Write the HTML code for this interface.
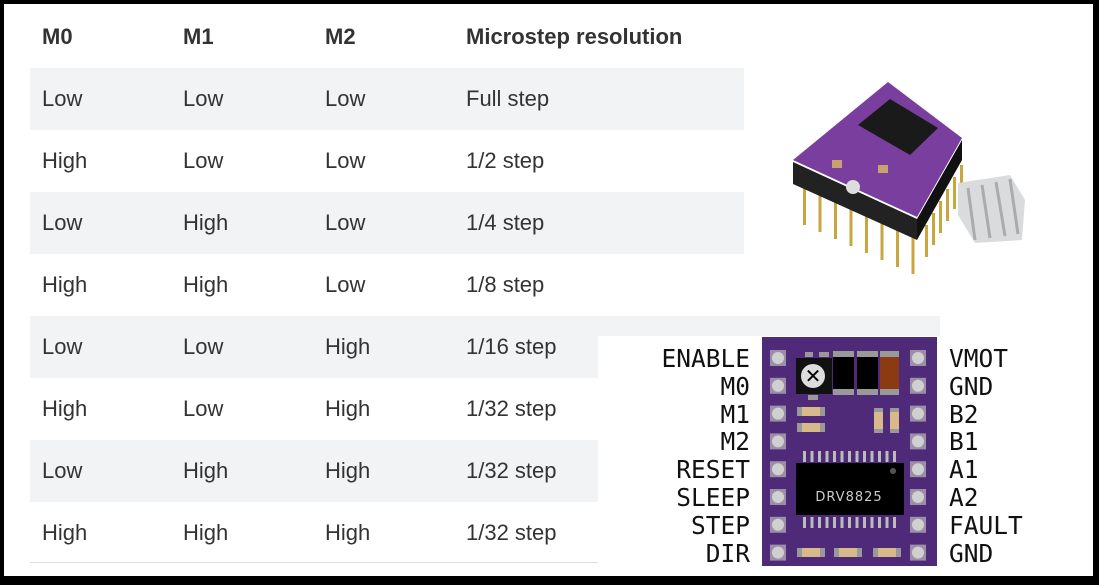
<!DOCTYPE html>
<html><head><meta charset="utf-8"><style>
html,body{margin:0;padding:0;}
body{width:1099px;height:585px;background:#000;position:relative;overflow:hidden;font-family:"Liberation Sans",Arial,sans-serif;}
#pg{position:absolute;left:4px;top:4px;width:1089px;height:572px;background:#fff;}
.row{position:absolute;left:26px;width:714px;height:62px;}
.sh{background:#f2f3f5;}
.t{position:absolute;font-size:22px;color:#333;line-height:22px;}
.h{font-weight:bold;}
.pl{position:absolute;font-family:"DejaVu Sans Mono",monospace;font-size:24.5px;color:#111;line-height:24px;}
</style></head><body>
<div id="pg">
<div class="row sh" style="top:64px"></div>
<div class="row sh" style="top:188px"></div>
<div class="row sh" style="top:312px;width:910px"></div>
<div class="row sh" style="top:436px"></div>
<div style="position:absolute;left:26px;top:558px;width:714px;height:1px;background:#ddd"></div>
</div>
<div style="position:absolute;left:598px;top:336px;width:495px;height:240px;background:#fff"></div>
<div id="tx"></div>
<script>
var cols=[42,183,325,466];
var data=[["M0","M1","M2","Microstep resolution"],["Low","Low","Low","Full step"],["High","Low","Low","1/2 step"],["Low","High","Low","1/4 step"],["High","High","Low","1/8 step"],["Low","Low","High","1/16 step"],["High","Low","High","1/32 step"],["Low","High","High","1/32 step"],["High","High","High","1/32 step"]];
var h="";
data.forEach(function(r,i){var y=(i==0?37:99+(i-1)*62)-11;r.forEach(function(c,j){h+='<div class="t'+(i==0?' h':'')+'" style="left:'+cols[j]+'px;top:'+y+'px">'+c+'</div>';});});
var L=["ENABLE","M0","M1","M2","RESET","SLEEP","STEP","DIR"],R=["VMOT","GND","B2","B1","A1","A2","FAULT","GND"];
for(var i=0;i<8;i++){var y=358+i*27.8-11;h+='<div class="pl" style="right:349px;top:'+y+'px">'+L[i]+'</div><div class="pl" style="left:949px;top:'+y+'px">'+R[i]+'</div>';}
document.getElementById('tx').innerHTML=h;
</script>
<svg style="position:absolute;left:0;top:0" width="1099" height="585">
<rect x="762" y="337" width="175" height="229" fill="#4e2a78"/>
<g id="pads"></g>
<rect x="796" y="358" width="36" height="36" fill="#111"/>
<circle cx="813" cy="376" r="12" fill="#ddd"/><text x="813" y="383" font-size="20" text-anchor="middle" font-family="DejaVu Sans" font-weight="bold">✕</text>
<rect x="805" y="352" width="8" height="5" fill="#999"/><rect x="819" y="352" width="10" height="5" fill="#999"/><rect x="808" y="395" width="10" height="5" fill="#999"/>
<rect x="833" y="351" width="21" height="6" fill="#999"/><rect x="833" y="357" width="21" height="32" fill="#000"/><rect x="833" y="389" width="21" height="6" fill="#999"/>
<rect x="857" y="351" width="21" height="6" fill="#999"/><rect x="857" y="357" width="21" height="32" fill="#000"/><rect x="857" y="389" width="21" height="6" fill="#999"/>
<rect x="880" y="351" width="19" height="6" fill="#999"/><rect x="880" y="357" width="19" height="32" fill="#8b3a12"/><rect x="880" y="389" width="19" height="6" fill="#999"/>
<rect x="797" y="407" width="28" height="9" fill="#999"/><rect x="802" y="407" width="18" height="9" fill="#d8b98a"/>
<rect x="797" y="423" width="28" height="9" fill="#999"/><rect x="802" y="423" width="18" height="9" fill="#d8b98a"/>
<rect x="874" y="408" width="9" height="25" fill="#999"/><rect x="874" y="412" width="9" height="17" fill="#d8b98a"/>
<rect x="890" y="408" width="9" height="25" fill="#999"/><rect x="890" y="412" width="9" height="17" fill="#d8b98a"/>
<g id="ic"></g>
<rect x="796" y="463" width="108" height="52" fill="#000"/><circle cx="893" cy="471" r="3" fill="#555"/>
<text x="849" y="501" font-size="13" fill="#ccc" text-anchor="middle" font-family="DejaVu Sans" letter-spacing="1">DRV8825</text>
<rect x="797" y="548" width="28" height="9" fill="#999"/><rect x="802" y="548" width="18" height="9" fill="#d8b98a"/>
<rect x="834" y="548" width="28" height="9" fill="#999"/><rect x="839" y="548" width="18" height="9" fill="#d8b98a"/>
<rect x="873" y="548" width="28" height="9" fill="#999"/><rect x="878" y="548" width="18" height="9" fill="#d8b98a"/>
<!-- photo -->
<g id="pins"></g>
<polygon points="793,162 917,219 917,240 793,184" fill="#222"/>
<polygon points="917,219 962,140 962,160 917,240" fill="#111"/>
<polygon points="793,160 888,82 962,138 917,217" fill="#7a3f9e"/>
<polygon points="858,125 890,99 938,128 910,155" fill="#1a1a1a"/>
<circle cx="853" cy="187" r="7" fill="#ddd"/>
<rect x="832" y="160" width="10" height="8" fill="#c9a070"/><rect x="878" y="165" width="10" height="8" fill="#c9a070"/>
<polygon points="958,183 1010,175 1025,200 1022,240 975,243 958,215" fill="#d9dbdd"/>
<g stroke="#a9abad" stroke-width="3"><line x1="968" y1="188" x2="975" y2="240"/><line x1="982" y1="185" x2="990" y2="238"/><line x1="996" y1="182" x2="1005" y2="236"/><line x1="1010" y1="179" x2="1018" y2="234"/></g>
</svg>
<script>
var s="";
for(var i=0;i<8;i++){var y=358+i*27.8;[778,918].forEach(function(x){s+='<rect x="'+(x-8)+'" y="'+(y-8)+'" width="16" height="16" fill="#9a8fa6"/><circle cx="'+x+'" cy="'+y+'" r="6" fill="#d0d0d0"/>';});}
document.getElementById('pads').innerHTML=s;
var c="";for(var k=0;k<13;k++){var x=803+k*7.5;c+='<rect x="'+x+'" y="451" width="3" height="11" fill="#bbb"/><rect x="'+x+'" y="517" width="3" height="11" fill="#bbb"/>';}
document.getElementById('ic').innerHTML=c;
var p="";for(var k=0;k<8;k++){var x=803+k*15.5,y=185+k*7;p+='<rect x="'+x+'" y="'+y+'" width="3" height="40" fill="#c9a640"/>';}
for(var k=0;k<6;k++){var x=925+k*7,y=225-k*12;p+='<rect x="'+x+'" y="'+y+'" width="3" height="32" fill="#c9a640"/>';}
document.getElementById('pins').innerHTML=p;
</script>
</body></html>
